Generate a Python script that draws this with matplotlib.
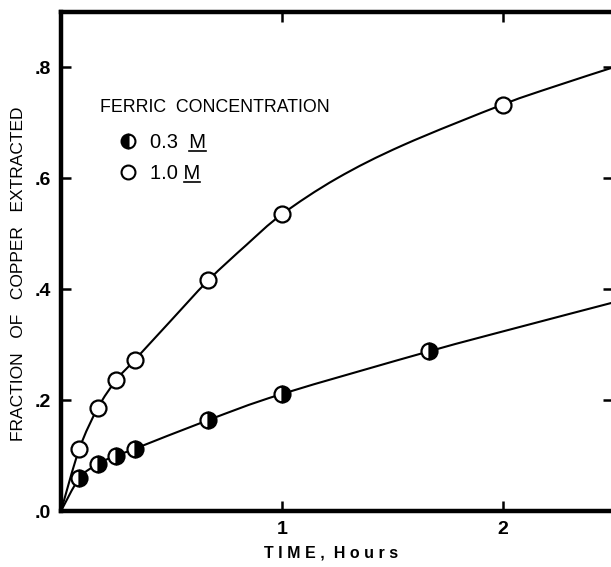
#!/usr/bin/env python
##-----------------------------------------
import matplotlib
matplotlib.use('Agg')
import matplotlib.pyplot as plt
import numpy as np
from matplotlib.lines import Line2D
from matplotlib.path import Path
from matplotlib.patches import PathPatch
from matplotlib.transforms import IdentityTransform
#
#-------------------------------------------------------------------
# Data (time in hours, fraction extracted)
#-------------------------------------------------------------------
t_03 = [0.083, 0.167, 0.25, 0.333, 0.667, 1.0, 1.667]
f_03 = [0.059, 0.085, 0.100, 0.112, 0.164, 0.211, 0.288]
#
t_10 = [0.083, 0.167, 0.25, 0.333, 0.667, 1.0, 2.0]
f_10 = [0.112, 0.186, 0.236, 0.272, 0.416, 0.535, 0.733]
#
# hand drawn smooth curves
curve_03_t = [0, 0.083, 0.167, 0.25, 0.333, 0.667, 1.0, 1.667, 2.05, 2.5]
curve_03_f = [0, 0.059, 0.085, 0.100, 0.112, 0.164, 0.211, 0.288, 0.329, 0.376]
curve_10_t = [0, 0.083, 0.167, 0.25, 0.333, 0.49, 0.667, 0.84, 1.0, 1.25, 1.55, 2.0, 2.23, 2.5]
curve_10_f = [0, 0.112, 0.186, 0.236, 0.272, 0.340, 0.416, 0.480, 0.535, 0.600, 0.660, 0.733, 0.765, 0.800]
#
yticks = [0.0, 0.2, 0.4, 0.6, 0.8]
ylabels = ['.0', '.2', '.4', '.6', '.8']
xticks = [1, 2]
xlabels = ['1', '2']
#
plt.rcParams['font.family'] = ['Liberation Sans', 'DejaVu Sans']
#
#-------------------------------------------------------------------
# smooth (bezier) line through the read curve points
#-------------------------------------------------------------------
def smooth_path(xs, ys):
        p = np.column_stack([xs, ys]).astype(float)
        n = len(p)
        verts = [p[0]]
        codes = [Path.MOVETO]
        for i in range(n - 1):
                a = p[i - 1] if i > 0 else p[i]
                d = p[i + 2] if i + 2 < n else p[i + 1]
                c1 = p[i] + (p[i + 1] - a) / 6.0
                c2 = p[i + 1] - (d - p[i]) / 6.0
                verts += [c1, c2, p[i + 1]]
                codes += [Path.CURVE4] * 3
        return Path(verts, codes)
#
#-------------------------------------------------------------------
# Plot
#-------------------------------------------------------------------
fig = plt.figure(figsize=(6.11, 5.67), dpi=100)
ax = fig.add_axes([61/611, 56/567, 552/611, 499/567])
#
for cx, cy in [(curve_03_t, curve_03_f), (curve_10_t, curve_10_f)]:
        ax.add_patch(PathPatch(smooth_path(cx, cy), facecolor='none', edgecolor='black',
                               linewidth=1.5, zorder=2))
ax.plot(t_03, f_03, linestyle='none', marker='o', markersize=11.5, markeredgewidth=1.6,
        markeredgecolor='black', markerfacecolor='black', markerfacecoloralt='white',
        fillstyle='right', zorder=3, clip_on=False)
ax.plot(t_10, f_10, linestyle='none', marker='o', markersize=11.5, markeredgewidth=1.6,
        markeredgecolor='black', markerfacecolor='white', zorder=3, clip_on=False)
#
ax.set_xlim(0, 2.5)
ax.set_ylim(0, 0.9)
#
for s in ['left', 'bottom', 'top', 'right']:
        ax.spines[s].set_linewidth(3.2)
#
ax.set_yticks(yticks)
ax.set_yticklabels(ylabels, fontsize=14, fontweight='bold')
ax.set_xticks(xticks)
ax.set_xticklabels(xlabels, fontsize=14, fontweight='bold')
ax.tick_params(direction='in', length=7, width=1.8, top=True, right=True, pad=7)
#
ax.set_ylabel('FRACTION   OF   COPPER   EXTRACTED', fontsize=12.5)
ax.yaxis.set_label_coords(-0.064, 0.475)
ax.set_xlabel('T I M E ,  H o u r s', fontsize=11.5, fontweight='bold')
ax.xaxis.set_label_coords(0.49, -0.07)
#
#-------------------------------------------------------------------
# Legend
#-------------------------------------------------------------------
ax.text(0.0707, 0.808, 'FERRIC  CONCENTRATION', fontsize=12.8, transform=ax.transAxes,
        ha='left', va='center')
h1 = Line2D([], [], linestyle='none', marker='o', markersize=10, markeredgewidth=1.5,
            markeredgecolor='black', markerfacecolor='black', markerfacecoloralt='white',
            fillstyle='left')
h2 = Line2D([], [], linestyle='none', marker='o', markersize=10, markeredgewidth=1.5,
            markeredgecolor='black', markerfacecolor='white')
leg = ax.legend([h1, h2], ['0.3  M', '1.0 M'],
                loc='upper left', bbox_to_anchor=(0.103, 0.7575), frameon=False,
                borderaxespad=0, borderpad=0, handlelength=1.0, handletextpad=0.6,
                labelspacing=0.6, fontsize=14.5)
#
# underline the M (molar) in the legend labels
fig.canvas.draw()
r = fig.canvas.get_renderer()
tmp = fig.text(0, 0, 'M', fontsize=14.5)
mw = tmp.get_window_extent(r).width
tmp.remove()
for t in leg.get_texts():
        bb = t.get_window_extent(r)
        fig.add_artist(Line2D([bb.x1 - mw, bb.x1], [bb.y0 + 1.5, bb.y0 + 1.5],
                              transform=IdentityTransform(), color='black', linewidth=1.2))
#
plt.savefig('out.png', dpi=100, facecolor='white')
plt.close("all")
#------------------------------------------
